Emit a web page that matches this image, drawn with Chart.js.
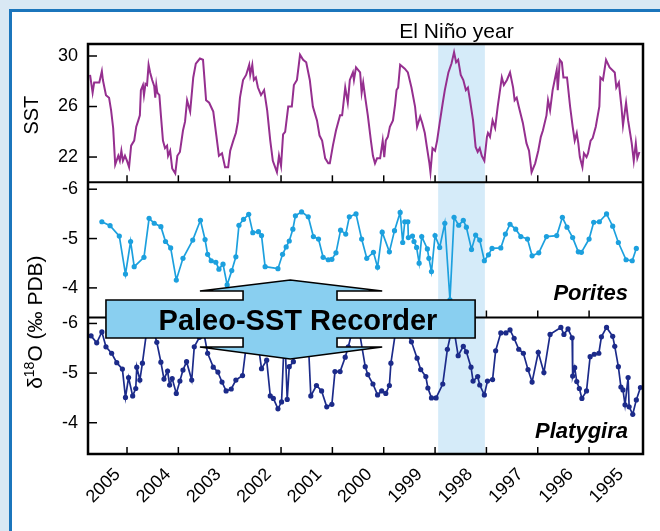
<!DOCTYPE html>
<html>
<head>
<meta charset="utf-8">
<script src="https://cdn.jsdelivr.net/npm/chart.js@4.4.1/dist/chart.umd.min.js"></script>
<style>
  html, body { margin: 0; padding: 0; overflow: hidden; }
  body { width: 660px; height: 531px; background: #d9e8f4; position: relative; }
  #frame { position: absolute; left: 9px; top: 9px; right: 0; bottom: 0; background: #fff;
           border-left: 3px solid #1b75bc; border-top: 3px solid #1b75bc; }
  #chart { position: absolute; left: 0; top: 0; }
</style>
</head>
<body>
<div id="frame"></div>
<canvas id="chart" width="660" height="531"></canvas>
<script>
const FONT = '"Liberation Sans", Arial, Helvetica, sans-serif';

// SST record
const sstYears = [
  2005.72,2005.67,2005.64,2005.58,2005.54,2005.49,2005.47,2005.41,2005.35,2005.31,
  2005.27,2005.23,2005.17,2005.14,2005.11,2005.08,2005.04,2005.00,2004.96,2004.92,
  2004.86,2004.82,2004.78,2004.75,2004.73,2004.69,2004.67,2004.64,2004.61,2004.58,
  2004.55,2004.51,2004.47,2004.45,2004.43,2004.41,2004.37,2004.34,2004.30,2004.26,
  2004.22,2004.20,2004.16,2004.12,2004.06,2004.02,2003.97,2003.91,2003.87,2003.83,
  2003.77,2003.71,2003.66,2003.58,2003.52,2003.46,2003.40,2003.32,2003.26,2003.21,
  2003.15,2003.09,2003.03,2002.99,2002.93,2002.88,2002.84,2002.80,2002.74,2002.68,
  2002.62,2002.60,2002.56,2002.53,2002.49,2002.45,2002.39,2002.33,2002.27,2002.21,
  2002.16,2002.08,2002.04,2002.00,2001.96,2001.92,2001.86,2001.79,2001.75,2001.69,
  2001.63,2001.57,2001.51,2001.44,2001.38,2001.30,2001.25,2001.20,2001.14,2001.08,
  2001.05,2000.99,2000.93,2000.85,2000.81,2000.75,2000.70,2000.66,2000.60,2000.58,
  2000.54,2000.50,2000.46,2000.43,2000.40,2000.36,2000.31,2000.25,2000.21,2000.17,
  2000.13,2000.07,2000.02,1999.99,1999.96,1999.92,1999.88,1999.82,1999.78,1999.75,
  1999.72,1999.68,1999.59,1999.53,1999.46,1999.39,1999.35,1999.29,1999.25,1999.20,
  1999.16,1999.11,1999.09,1999.05,1999.00,1998.96,1998.91,1998.85,1998.81,1998.74,
  1998.68,1998.63,1998.59,1998.55,1998.50,1998.45,1998.40,1998.36,1998.32,1998.26,
  1998.21,1998.17,1998.13,1998.09,1998.04,1997.99,1997.97,1997.93,1997.88,1997.83,
  1997.78,1997.70,1997.66,1997.60,1997.54,1997.48,1997.45,1997.41,1997.37,1997.29,
  1997.22,1997.17,1997.12,1997.05,1996.99,1996.94,1996.90,1996.83,1996.80,1996.76,
  1996.71,1996.67,1996.63,1996.61,1996.57,1996.53,1996.50,1996.43,1996.37,1996.32,
  1996.28,1996.24,1996.21,1996.18,1996.13,1996.10,1996.05,1996.02,1995.97,1995.93,
  1995.87,1995.80,1995.78,1995.73,1995.67,1995.60,1995.50,1995.47,1995.42,1995.37,
  1995.34,1995.28,1995.24,1995.17,1995.13,1995.09,1995.06,1995.02
];
const sstValues = [
  28.5,27.1,27.9,27.9,27.9,28.8,28.1,26.9,26.7,25.7,
  24.3,21.4,22.1,21.7,22.5,21.7,22.1,21.7,21.2,22.9,
  23.3,24.4,24.9,25.3,27.3,27.7,26.9,27.8,27.7,29.3,
  28.7,28.1,27.6,26.7,27.7,27.1,26.9,25.3,23.3,22.7,
  22.9,22.1,22.5,21.1,20.7,22.1,22.4,24.1,24.8,26.5,
  25.6,28.3,29.4,29.8,29.7,26.5,26.3,25.6,23.7,22.1,
  22.3,21.2,21.2,22.5,23.3,23.9,24.8,26.7,28.1,28.5,
  29.3,28.5,29.3,28.1,28.3,27.5,26.9,27.3,25.7,23.3,
  21.7,20.8,22.1,21.3,23.8,24.0,26.0,26.0,27.7,28.1,
  30.1,29.7,29.5,28.1,26.0,24.9,23.7,23.3,21.9,21.5,
  21.5,22.9,24.1,25.3,25.3,27.5,26.3,28.1,28.7,28.1,
  29.1,28.9,28.7,27.1,27.9,26.7,25.3,23.3,22.1,21.5,
  21.9,21.9,23.3,22.0,23.3,23.6,24.4,24.9,26.1,27.3,
  27.5,29.3,29.0,28.7,27.5,26.0,24.4,25.2,24.7,23.9,
  22.8,21.5,20.8,22.7,22.5,23.3,24.7,26.3,27.3,28.7,
  29.4,30.3,29.5,29.7,28.5,28.1,27.3,27.5,26.5,24.9,
  22.8,22.4,22.7,22.1,21.7,23.6,23.9,23.6,24.9,24.3,
  26.0,28.3,27.7,28.1,28.7,27.5,26.5,26.7,26.0,24.7,
  23.1,22.5,20.8,21.5,22.5,23.6,24.1,25.3,26.5,25.7,
  27.3,28.1,28.9,27.3,29.7,29.5,28.3,28.3,26.0,24.4,
  23.3,23.9,23.1,22.0,21.2,22.3,22.0,22.3,23.3,23.5,
  24.4,26.0,28.3,28.1,29.7,29.1,28.7,27.5,27.9,26.0,
  24.5,26.3,24.9,23.1,21.7,23.1,21.9,22.4
];

// Porites d18O
const poritesYears = [
  2005.49,2005.33,2005.15,2005.03,2004.93,2004.86,2004.67,2004.57,2004.47,2004.34,
  2004.25,2004.15,2004.04,2003.91,2003.72,2003.57,2003.48,2003.43,2003.36,2003.27,
  2003.21,2003.13,2003.05,2002.96,2002.88,2002.82,2002.73,2002.63,2002.55,2002.44,
  2002.38,2002.31,2002.06,2001.97,2001.90,2001.84,2001.77,2001.72,2001.60,2001.47,
  2001.37,2001.27,2001.18,2001.08,2001.01,2000.93,2000.84,2000.74,2000.67,2000.54,
  2000.43,2000.33,2000.20,2000.12,2000.03,1999.89,1999.79,1999.68,1999.63,1999.59,
  1999.53,1999.52,1999.44,1999.41,1999.36,1999.31,1999.26,1999.15,1999.12,1999.07,
  1999.00,1998.91,1998.81,1998.71,1998.63,1998.54,1998.45,1998.39,1998.29,1998.21,
  1998.13,1998.04,1997.96,1997.89,1997.72,1997.63,1997.54,1997.43,1997.33,1997.20,
  1997.11,1996.98,1996.83,1996.63,1996.52,1996.43,1996.32,1996.21,1996.15,1996.00,
  1995.91,1995.80,1995.66,1995.54,1995.43,1995.28,1995.16,1995.08
];
const poritesValues = [
  -5.34,-5.26,-5.05,-4.28,-4.94,-4.43,-4.62,-5.41,-5.31,-5.24,
  -4.94,-4.81,-4.16,-4.60,-4.97,-5.37,-4.98,-4.68,-4.55,-4.52,
  -4.38,-4.48,-4.06,-4.35,-4.63,-5.27,-5.39,-5.49,-5.12,-5.14,
  -5.06,-4.43,-4.39,-4.68,-4.83,-4.95,-5.19,-5.46,-5.54,-5.44,
  -5.04,-4.99,-4.62,-4.57,-4.58,-4.71,-5.17,-5.09,-5.44,-5.50,
  -4.99,-4.60,-4.72,-4.42,-5.13,-4.73,-5.16,-5.53,-4.92,-5.34,
  -5.34,-5.02,-5.05,-4.94,-4.82,-4.50,-5.04,-4.79,-4.60,-4.33,
  -5.06,-4.82,-5.31,-3.76,-5.43,-5.27,-5.37,-5.23,-4.78,-5.07,
  -4.97,-4.55,-4.67,-4.80,-4.81,-5.09,-5.29,-5.19,-5.04,-4.99,
  -4.65,-4.71,-5.04,-5.06,-5.43,-5.23,-5.02,-4.73,-4.72,-4.99,
  -5.33,-5.34,-5.50,-5.25,-4.92,-4.57,-4.55,-4.80
];

// Platygira d18O
const platygiraYears = [
  2005.70,2005.59,2005.49,2005.41,2005.30,2005.20,2005.09,2005.03,2004.97,2004.89,
  2004.83,2004.81,2004.75,2004.70,2004.61,2004.51,2004.42,2004.34,2004.28,2004.21,
  2004.17,2004.12,2004.04,2003.97,2003.91,2003.84,2003.74,2003.69,2003.59,2003.52,
  2003.43,2003.32,2003.23,2003.15,2003.07,2002.97,2002.88,2002.75,2002.64,2002.53,
  2002.47,2002.38,2002.28,2002.21,2002.15,2002.06,2001.99,2001.93,2001.88,2001.84,
  2001.76,2001.67,2001.55,2001.47,2001.42,2001.31,2001.21,2001.11,2001.01,2000.95,
  2000.85,2000.75,2000.69,2000.60,2000.48,2000.36,2000.31,2000.21,2000.12,2000.04,
  1999.96,1999.89,1999.86,1999.76,1999.63,1999.46,1999.35,1999.28,1999.18,1999.14,
  1999.07,1998.98,1998.85,1998.76,1998.65,1998.55,1998.45,1998.39,1998.30,1998.26,
  1998.17,1998.13,1998.04,1997.98,1997.88,1997.82,1997.72,1997.62,1997.54,1997.46,
  1997.37,1997.28,1997.19,1997.11,1996.99,1996.88,1996.76,1996.55,1996.49,1996.41,
  1996.33,1996.32,1996.28,1996.24,1996.19,1996.14,1996.05,1995.98,1995.90,1995.81,
  1995.76,1995.66,1995.54,1995.50,1995.43,1995.38,1995.34,1995.30,1995.24,1995.22,
  1995.15,1995.08,1995.00
];
const platygiraValues = [
  -5.75,-5.61,-5.83,-5.53,-5.40,-5.21,-5.08,-4.51,-4.91,-4.54,
  -4.69,-5.12,-4.86,-5.20,-5.90,-5.95,-5.62,-5.22,-4.88,-5.04,
  -4.76,-4.89,-4.59,-4.84,-5.06,-5.23,-4.86,-5.53,-5.72,-5.90,
  -5.40,-5.12,-5.02,-4.82,-4.64,-4.68,-4.86,-4.95,-5.87,-5.95,
  -5.76,-5.09,-5.26,-4.54,-4.49,-4.28,-4.42,-5.87,-4.47,-5.13,
  -5.23,-5.90,-5.95,-5.66,-4.54,-4.75,-4.64,-4.32,-4.37,-5.03,
  -5.03,-5.32,-5.53,-5.90,-5.87,-5.13,-4.97,-4.78,-4.56,-4.64,
  -4.59,-4.75,-5.20,-5.90,-5.97,-5.63,-5.30,-5.07,-4.93,-4.70,
  -4.50,-4.50,-4.78,-5.48,-5.99,-5.35,-5.54,-5.43,-5.12,-4.84,
  -4.93,-4.76,-4.56,-4.84,-4.87,-5.45,-5.81,-5.81,-5.87,-5.70,
  -5.48,-5.40,-5.07,-4.82,-5.42,-5.01,-5.78,-5.92,-5.78,-5.89,
  -5.71,-4.94,-5.11,-4.83,-4.69,-4.49,-4.64,-5.33,-5.38,-5.40,
  -5.73,-5.92,-5.74,-5.54,-5.13,-4.72,-4.66,-4.36,-4.91,-4.32,
  -4.17,-4.46,-4.71
];

const yearLabels = [2005, 2004, 2003, 2002, 2001, 2000, 1999, 1998, 1997, 1996, 1995];
const tickYears = [2005, 2004, 2003, 2002, 2001, 2000, 1999, 1998, 1997, 1996];
const sstTicks = [22, 26, 30];
const d18OTicks = [-6, -5, -4];
const elNinoYears = [1998.03, 1998.94];

// callout arrow: horizontal positions in years, vertical offsets from the Porites/Platygira divider
const arrowX = { boxLeft: 2005.41, boxRight: 1998.22, shaftLeft: 2002.74, shaftRight: 2000.91,
                 wingLeft: 2003.58, wingRight: 2000.03, tip: 2001.82, label: 2001.67 };
const arrowDy = { tipTop: -37.5, shaftTop: -26.5, boxTop: -17.5, boxBottom: 20.5, shaftBottom: 29.5, tipBottom: 41.5 };

const pairs = (xs, ys) => xs.map((x, i) => ({ x: x, y: ys[i] }));

function seg(ctx, x1, y1, x2, y2) {
  ctx.beginPath();
  ctx.moveTo(x1, y1);
  ctx.lineTo(x2, y2);
  ctx.stroke();
}

const decor = {
  id: 'decor',
  beforeDatasetsDraw(chart) {
    const { ctx, chartArea: a, scales } = chart;
    const x0 = scales.x.getPixelForValue(elNinoYears[0]);
    const x1 = scales.x.getPixelForValue(elNinoYears[1]);
    ctx.save();
    ctx.fillStyle = '#d5ebf9';
    ctx.fillRect(Math.min(x0, x1), a.top, Math.abs(x1 - x0), a.bottom - a.top);
    ctx.restore();
  },
  afterDatasetsDraw(chart) {
    const { ctx, chartArea: a, scales } = chart;
    const xs = scales.x;
    const panels = [scales.ySST, scales.yPor, scales.yPla];
    ctx.save();
    ctx.strokeStyle = '#000';
    ctx.lineCap = 'butt';

    // frame and panel dividers
    ctx.lineWidth = 2.5;
    ctx.strokeRect(a.left, a.top, a.right - a.left, a.bottom - a.top);
    ctx.lineWidth = 2;
    panels.slice(1).forEach(p => seg(ctx, a.left, p.top, a.right, p.top));

    // inward ticks
    ctx.lineWidth = 1.5;
    panels.forEach(p => {
      tickYears.forEach(yr => {
        const px = xs.getPixelForValue(yr);
        seg(ctx, px, p.bottom, px, p.bottom - 7);
      });
      p.ticks.forEach(t => {
        const py = p.getPixelForValue(t.value);
        seg(ctx, a.left, py, a.left + 9, py);
      });
    });

    // El Nino label
    ctx.fillStyle = '#000';
    ctx.font = '21px ' + FONT;
    ctx.textAlign = 'center';
    ctx.textBaseline = 'alphabetic';
    ctx.fillText('El Niño year', xs.getPixelForValue((elNinoYears[0] + elNinoYears[1]) / 2) - 5, a.top - 6);

    // coral names
    ctx.font = 'italic bold 22px ' + FONT;
    ctx.textAlign = 'right';
    ctx.fillText('Porites', a.right - 15, scales.yPor.bottom - 18);
    ctx.fillText('Platygira', a.right - 15, scales.yPla.bottom - 16.5);

    // axis titles
    ctx.save();
    ctx.translate(37.5, (scales.ySST.top + scales.ySST.bottom) / 2 + 2);
    ctx.rotate(-Math.PI / 2);
    ctx.font = '20px ' + FONT;
    ctx.textAlign = 'center';
    ctx.fillText('SST', 0, 0);
    ctx.restore();

    ctx.save();
    ctx.translate(41.5, (scales.yPor.top + scales.yPla.bottom) / 2 + 4);
    ctx.rotate(-Math.PI / 2);
    ctx.textAlign = 'left';
    const big = '21px ' + FONT, small = '14px ' + FONT;
    ctx.font = big; const w1 = ctx.measureText('δ').width;
    ctx.font = small; const w2 = ctx.measureText('18').width;
    ctx.font = big; const w3 = ctx.measureText('O (‰ PDB)').width;
    let u = -(w1 + w2 + w3) / 2;
    ctx.fillText('δ', u, 0); u += w1;
    ctx.font = small; ctx.fillText('18', u, -7.5); u += w2;
    ctx.font = big; ctx.fillText('O (‰ PDB)', u, 0);
    ctx.restore();

    // Paleo-SST Recorder callout
    const X = v => xs.getPixelForValue(v);
    const s = scales.yPla.top;
    const A = arrowX, D = arrowDy;
    const pts = [
      [A.boxLeft, D.boxTop], [A.shaftLeft, D.boxTop], [A.shaftLeft, D.shaftTop], [A.wingLeft, D.shaftTop],
      [A.tip, D.tipTop], [A.wingRight, D.shaftTop], [A.shaftRight, D.shaftTop], [A.shaftRight, D.boxTop],
      [A.boxRight, D.boxTop], [A.boxRight, D.boxBottom], [A.shaftRight, D.boxBottom], [A.shaftRight, D.shaftBottom],
      [A.wingRight, D.shaftBottom], [A.tip, D.tipBottom], [A.wingLeft, D.shaftBottom], [A.shaftLeft, D.shaftBottom],
      [A.shaftLeft, D.boxBottom], [A.boxLeft, D.boxBottom]
    ];
    ctx.beginPath();
    pts.forEach((p, i) => {
      const px = X(p[0]), py = s + p[1];
      if (i === 0) ctx.moveTo(px, py); else ctx.lineTo(px, py);
    });
    ctx.closePath();
    ctx.fillStyle = '#89cff0';
    ctx.fill();
    ctx.lineWidth = 1.6;
    ctx.lineJoin = 'miter';
    ctx.miterLimit = 4;
    ctx.strokeStyle = '#000';
    ctx.stroke();

    ctx.fillStyle = '#000';
    ctx.font = 'bold 29px ' + FONT;
    ctx.textAlign = 'center';
    ctx.textBaseline = 'alphabetic';
    ctx.fillText('Paleo-SST Recorder', X(A.label), s + 12);
    ctx.restore();
  }
};

const yTicks = {
  padding: 10,
  color: '#000',
  font: { family: FONT, size: 18 },
  callback: v => String(v)
};

new Chart(document.getElementById('chart').getContext('2d'), {
  type: 'line',
  data: {
    datasets: [
      {
        label: 'SST',
        data: pairs(sstYears, sstValues),
        xAxisID: 'x', yAxisID: 'ySST',
        borderColor: '#952f8f', borderWidth: 2,
        pointRadius: 0, tension: 0
      },
      {
        label: 'Porites',
        data: pairs(poritesYears, poritesValues),
        xAxisID: 'x', yAxisID: 'yPor',
        borderColor: '#1ca0de', backgroundColor: '#1ca0de', borderWidth: 1.7,
        pointRadius: 2.6, pointBorderWidth: 0, pointBackgroundColor: '#1ca0de', tension: 0
      },
      {
        label: 'Platygira',
        data: pairs(platygiraYears, platygiraValues),
        xAxisID: 'x', yAxisID: 'yPla',
        borderColor: '#1c2b8a', backgroundColor: '#1c2b8a', borderWidth: 1.7,
        pointRadius: 2.6, pointBorderWidth: 0, pointBackgroundColor: '#1c2b8a', tension: 0
      }
    ]
  },
  options: {
    responsive: false,
    animation: false,
    events: [],
    layout: { padding: { top: 44, right: 17, left: 0, bottom: 0 } },
    plugins: { legend: { display: false }, tooltip: { enabled: false }, title: { display: false } },
    scales: {
      x: { type: 'linear', display: false, reverse: true, min: 1994.95, max: 2005.76 },
      xLab: {
        type: 'linear', position: 'bottom', reverse: true, min: 1994.56, max: 2005.59,
        afterBuildTicks: s => { s.ticks = yearLabels.map(v => ({ value: v })); },
        afterFit: s => { s.height = 77; },
        grid: { display: false, drawTicks: false },
        border: { display: false },
        ticks: {
          autoSkip: false, minRotation: 45, maxRotation: 45, padding: 10,
          color: '#000', font: { family: FONT, size: 18 },
          callback: v => String(v)
        }
      },
      ySST: {
        type: 'linear', position: 'left', stack: 'panels', stackWeight: 138.3, weight: 3,
        min: 20, max: 30.95,
        afterBuildTicks: s => { s.ticks = sstTicks.map(v => ({ value: v })); },
        afterFit: s => { s.width = 88; },
        grid: { display: false, drawTicks: false }, border: { display: false },
        ticks: yTicks
      },
      yPor: {
        type: 'linear', position: 'left', stack: 'panels', stackWeight: 135.2, weight: 2,
        reverse: true, min: -6.14, max: -3.40,
        afterBuildTicks: s => { s.ticks = d18OTicks.map(v => ({ value: v })); },
        afterFit: s => { s.width = 88; },
        grid: { display: false, drawTicks: false }, border: { display: false },
        ticks: yTicks
      },
      yPla: {
        type: 'linear', position: 'left', stack: 'panels', stackWeight: 136.5, weight: 1,
        reverse: true, min: -6.12, max: -3.37,
        afterBuildTicks: s => { s.ticks = d18OTicks.map(v => ({ value: v })); },
        afterFit: s => { s.width = 88; },
        grid: { display: false, drawTicks: false }, border: { display: false },
        ticks: yTicks
      }
    }
  },
  plugins: [decor]
});
</script>
</body>
</html>
